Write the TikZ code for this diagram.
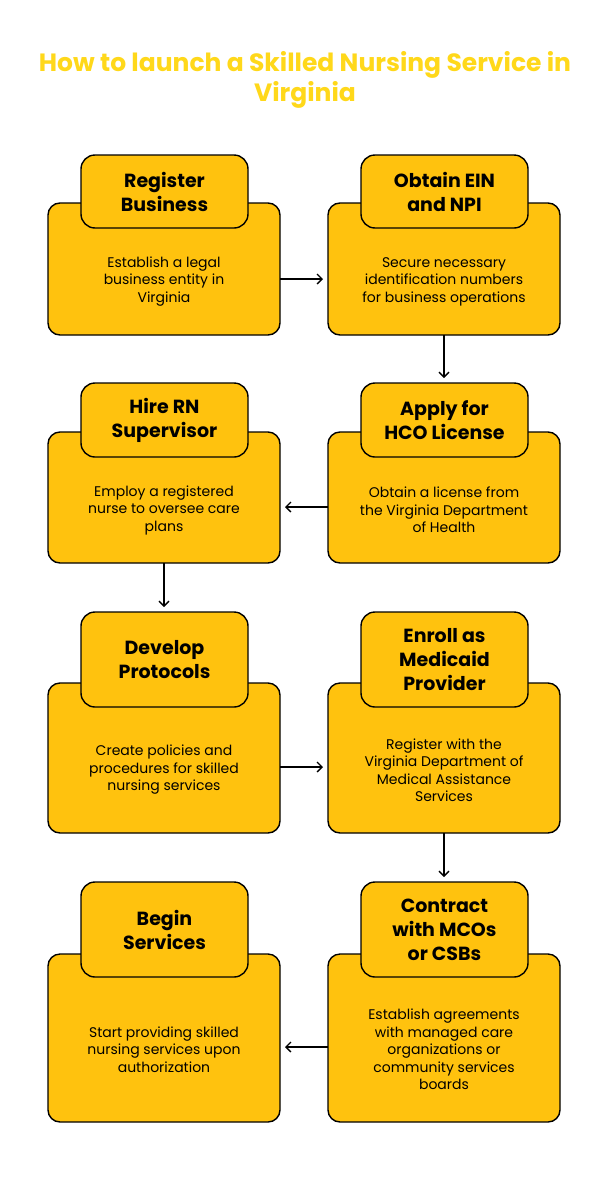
\documentclass[tikz,border=0pt]{standalone}
\usepackage{fontspec}
\setmainfont{Poppins}
\usetikzlibrary{arrows.meta}
\definecolor{ambre}{HTML}{FFC20E}
\definecolor{titre}{HTML}{FFD81A}
\begin{document}
\begin{tikzpicture}[x=1pt,y=-1pt,
    corps/.style={draw=black,line width=1.4pt,fill=ambre,rounded corners=12pt,inner sep=0pt,outer sep=0pt,minimum width=232pt},
    entete/.style={corps,rounded corners=14pt,minimum width=167pt,font=\fontsize{19}{24}\selectfont\bfseries,align=center},
    texte/.style={font=\fontsize{14}{17.5}\selectfont,align=center},
    fleche/.style={-{Straight Barb[length=5pt,width=10pt]},line width=1.3pt,shorten >=5pt}]
        \fill[white] (0,0) rectangle (610,1194); %Fond
        \useasboundingbox (0,0) rectangle (610,1194);
        \node[font=\fontsize{25}{30}\selectfont\bfseries,text=titre,align=center] (titre) at (305,80) {How to launch a Skilled Nursing Service in\\Virginia}; %Titre
        \node[corps,minimum height=132pt] (c1) at (164,269) {}; %Etape 1
        \node[entete,minimum height=73pt] (e1) at (164.5,191.5) {Register\\Business};
        \node[texte] (t1) at (164,281.5) {Establish a legal\\business entity in\\Virginia};
        \node[corps,minimum height=132pt] (c2) at (444,269) {}; %Etape 2
        \node[entete,minimum height=73pt] (e2) at (444.5,191.5) {Obtain EIN\\and NPI};
        \node[texte] (t2) at (444,281.5) {Secure necessary\\identification numbers\\for business operations};
        \node[corps,minimum height=131pt] (c3) at (444,497.5) {}; %Etape 3
        \node[entete,minimum height=74pt] (e3) at (444.5,420) {Apply for\\HCO License};
        \node[texte] (t3) at (444,510) {Obtain a license from\\the Virginia Department\\of Health};
        \node[corps,minimum height=131pt] (c4) at (164,497.5) {}; %Etape 4
        \node[entete,minimum height=74pt] (e4) at (164.5,420) {Hire RN\\Supervisor};
        \node[texte] (t4) at (164,510) {Employ a registered\\nurse to oversee care\\plans};
        \node[corps,minimum height=150pt] (c5) at (164,758) {}; %Etape 5
        \node[entete,minimum height=95pt] (e5) at (164.5,659.5) {Develop\\Protocols};
        \node[texte] (t5) at (164,770) {Create policies and\\procedures for skilled\\nursing services};
        \node[corps,minimum height=150pt] (c6) at (444,758) {}; %Etape 6
        \node[entete,minimum height=95pt] (e6) at (444.5,659.5) {Enroll as\\Medicaid\\Provider};
        \node[texte] (t6) at (444,770) {Register with the\\Virginia Department of\\Medical Assistance\\Services};
        \node[corps,minimum height=168pt] (c7) at (444,1038) {}; %Etape 7
        \node[entete,minimum height=95pt] (e7) at (444.5,929.5) {Contract\\with MCOs\\or CSBs};
        \node[texte] (t7) at (444,1049.5) {Establish agreements\\with managed care\\organizations or\\community services\\boards};
        \node[corps,minimum height=168pt] (c8) at (164,1038) {}; %Etape 8
        \node[entete,minimum height=95pt] (e8) at (164.5,929.5) {Begin\\Services};
        \node[texte] (t8) at (164,1049.5) {Start providing skilled\\nursing services upon\\authorization};
        \draw[fleche] ([yshift=2.5pt]t1 -| c1.east) -- ([yshift=2.5pt]t2 -| c2.west); %1 vers 2
        \draw[fleche] (c2.south) -- (c2.south |- e3.north); %2 vers 3
        \draw[fleche] ([yshift=3pt]t3 -| c3.west) -- ([yshift=3pt]t4 -| c4.east); %3 vers 4
        \draw[fleche] (c4.south) -- (c4.south |- e5.north); %4 vers 5
        \draw[fleche] ([yshift=3pt]t5 -| c5.east) -- ([yshift=3pt]t6 -| c6.west); %5 vers 6
        \draw[fleche] (c6.south) -- (c6.south |- e7.north); %6 vers 7
        \draw[fleche] ([yshift=2.5pt]t7 -| c7.west) -- ([yshift=2.5pt]t8 -| c8.east); %7 vers 8
    \end{tikzpicture}
\end{document}
